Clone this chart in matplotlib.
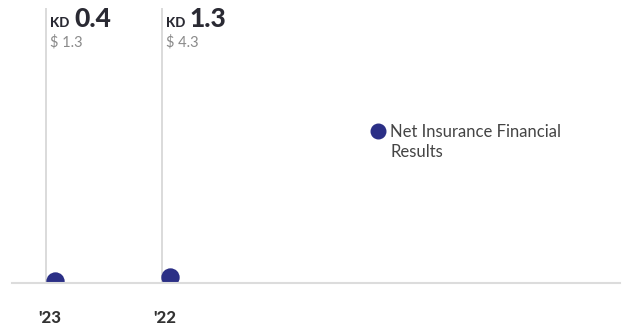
import matplotlib.pyplot as plt
from matplotlib import transforms
from matplotlib.lines import Line2D
from matplotlib.patches import Rectangle

plt.rcParams['font.family'] = ['Lato', 'DejaVu Sans']

years = ["'23", "'22"]
kd_values = [0.4, 1.3]
usd_values = [1.3, 4.3]
series_name = "Net Insurance Financial\nResults"

navy = "#2b2f86"
W, H = 630, 328
fig = plt.figure(figsize=(W / 100, H / 100), dpi=100)
ax = fig.add_axes([12 / W, 1 - 283 / H, 608 / W, (283 - 8) / H])

x = list(range(len(years)))
ax.set_xlim(-0.368, 4.896)
ax.set_ylim(0, 59)

# vertical guide lines sit a bit left of the bubble centres
shift = transforms.ScaledTranslation(-8.5 / 100, 0, fig.dpi_scale_trans)
ax.vlines(x, 0, 1, transform=ax.get_xaxis_transform() + shift,
          color="#d4d4d4", lw=1.2, zorder=1)

ax.scatter(x, kd_values, s=175, color=navy, zorder=3, linewidths=0)
# white band under the baseline so the bubbles look cut off there
ax.add_patch(Rectangle((-0.05, -0.2), 1.1, 0.2, transform=ax.transAxes,
                       facecolor="white", edgecolor="none", clip_on=False,
                       zorder=3.5))

for i, (kd, usd, yr) in enumerate(zip(kd_values, usd_values, years)):
    ax.annotate("KD", xy=(i, 1), xycoords=("data", "axes fraction"),
                xytext=(-4.5, -19), textcoords="offset pixels",
                ha="left", va="baseline", fontsize=9.5, fontweight="black",
                color="#2a2a33", zorder=5)
    ax.annotate(f"{kd}", xy=(i, 1), xycoords=("data", "axes fraction"),
                xytext=(19.5, -19), textcoords="offset pixels",
                ha="left", va="baseline", fontsize=19, fontweight="black",
                color="#2a2a33", zorder=5)
    ax.annotate(f"$ {usd}", xy=(i, 1), xycoords=("data", "axes fraction"),
                xytext=(-4.5, -38), textcoords="offset pixels",
                ha="left", va="baseline", fontsize=10.5,
                color="#8a8a8a", zorder=5)
    ax.annotate(yr, xy=(i, 0), xycoords=("data", "axes fraction"),
                xytext=(-5, -40), textcoords="offset pixels",
                ha="center", va="baseline", fontsize=12, fontweight="black",
                color="#333333", zorder=5)

for s in ["top", "right", "left"]:
    ax.spines[s].set_visible(False)
ax.spines["bottom"].set_color("#dcdcdc")
ax.spines["bottom"].set_linewidth(1.5)
ax.spines["bottom"].set_zorder(4)
ax.set_xticks([])
ax.set_yticks([])

handle = Line2D([], [], marker="o", ls="", color=navy, markersize=10.5)
leg = ax.legend([handle], [series_name], loc="upper left",
                bbox_to_anchor=(360 / W, 1 - 116 / H), bbox_transform=fig.transFigure,
                frameon=False, fontsize=12, handletextpad=0.1, handlelength=1.2,
                handleheight=1.2, borderpad=0, labelcolor="#444444")
leg.get_texts()[0].set_linespacing(1.3)
for col in leg._legend_handle_box.get_children():
    for row in col.get_children():
        row.align = "top"

fig.savefig("out.png", dpi=100)
